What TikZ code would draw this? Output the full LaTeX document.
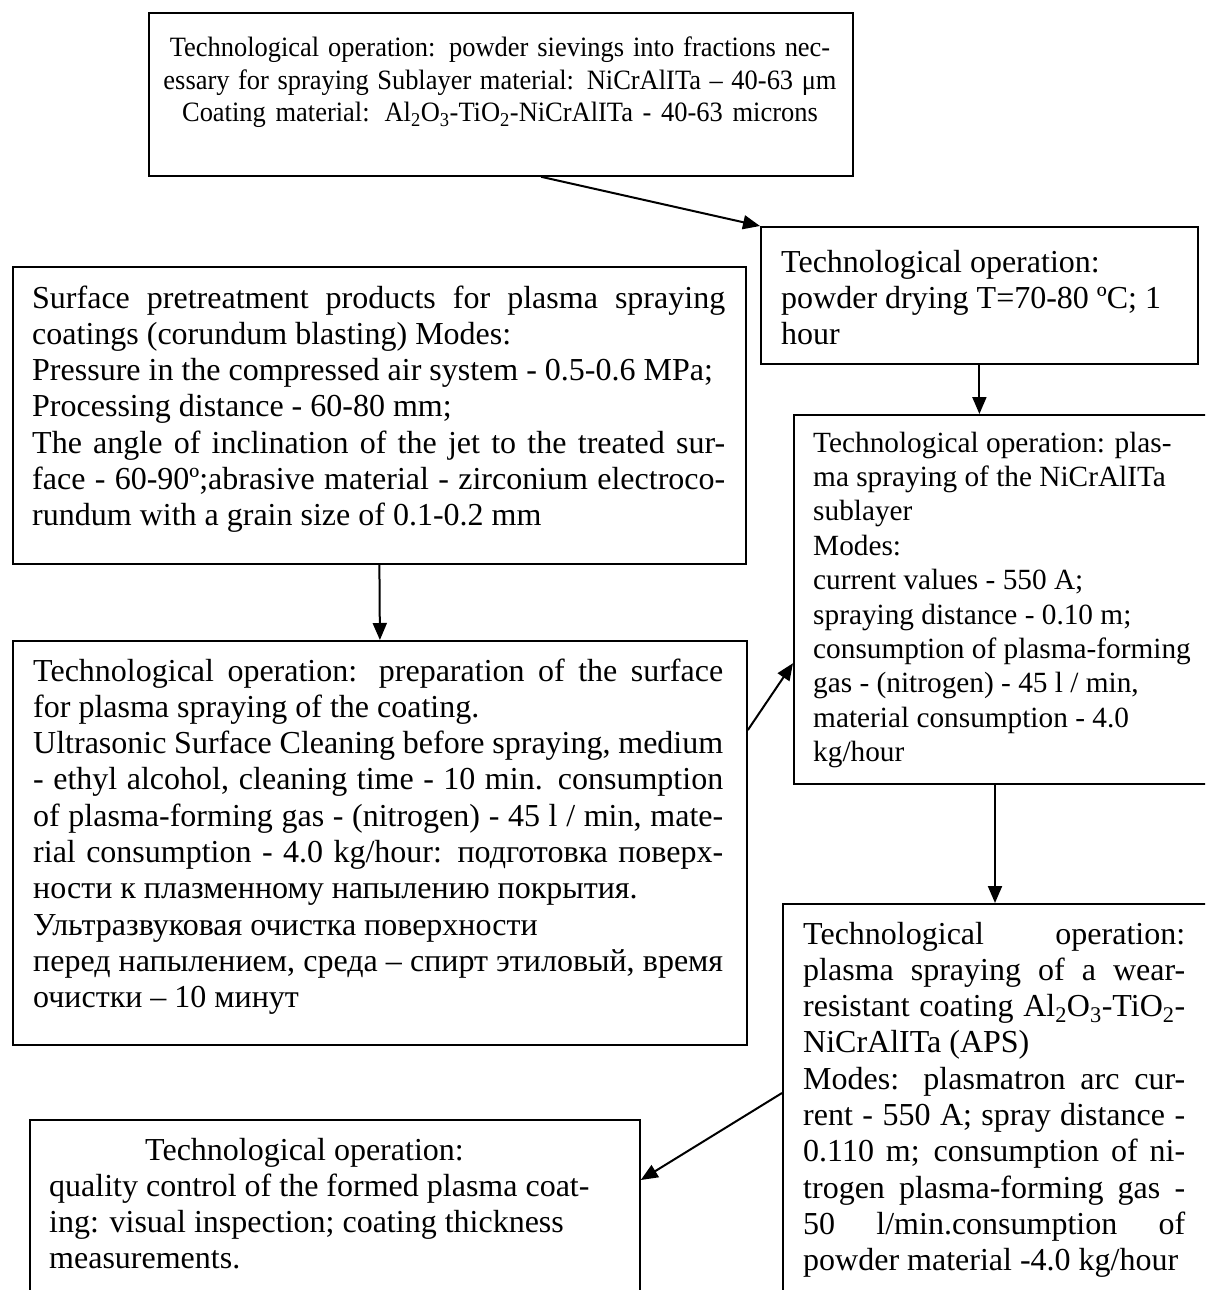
\documentclass[tikz,border=0pt]{standalone}
\usepackage{fontspec}
\setmainfont{Liberation Serif}
\usetikzlibrary{arrows.meta,calc}
\newdimen\jw
\newcommand\ns{\spaceskip=0pt\xspaceskip=0pt\relax}
\newcommand\jline[1]{{\ns\makebox[\jw][s]{#1}}}
\newcommand\sub[1]{\textsubscript{#1}}
\begin{document}
\begin{tikzpicture}[x=1pt,y=-1pt,
  box/.style={draw, line width=1.8pt, inner sep=0pt, anchor=north west},
  txt/.style={anchor=base west, inner sep=0pt, align=left},
  arr/.style={line width=2pt, -{Triangle[length=17pt,width=14pt]}},
  big/.style={font=\fontsize{32pt}{36.3pt}\selectfont},
  mid/.style={font=\fontsize{29.3pt}{34.4pt}\selectfont},
  small/.style={font=\fontsize{28pt}{32.5pt}\selectfont\addfontfeature{FakeStretch=0.945}}]
\useasboundingbox (0,0) rectangle (1205,1290);
\clip (0,0) rectangle (1205,1290);

% boxes
\node[box, minimum width=704pt, minimum height=163pt] (b1) at (148,12) {};
\node[box, minimum width=437pt, minimum height=137pt] (b2) at (760,226) {};
\node[box, minimum width=733pt, minimum height=297pt] (b5) at (12,266) {};
\node[box, minimum width=430pt, minimum height=369pt] (b3) at (793,414) {};
\node[box, minimum width=734pt, minimum height=404pt] (b7) at (12,640) {};
\node[box, minimum width=440pt, minimum height=420pt] (b4) at (782,903) {};
\node[box, minimum width=610pt, minimum height=200pt] (b6) at (29,1119) {};

% texts
\node[small, anchor=base, inner sep=0pt, text width=740pt, align=center] (t1) at (500,57)
  {\ns Technological operation: powder sievings into fractions nec-\\
   essary for spraying Sublayer material: NiCrAlITa – 40-63 μm\\
   Coating material: Al\sub{2}O\sub{3}-TiO\sub{2}-NiCrAlITa - 40-63 microns};

\node[big, txt, text width=420pt] (t2) at (781,272)
  {\ns Technological operation:\\
   powder drying T=70-80 ºC; 1\\
   hour};

\node[big, txt, text width=760pt] (t5) at (32,308)
  {\ns\jw=693pt
   \jline{Surface pretreatment products for plasma spraying}\\
   coatings (corundum blasting) Modes:\\
   Pressure in the compressed air system - 0.5-0.6 MPa;\\
   Processing distance - 60-80 mm;\\
   \jline{The angle of inclination of the jet to the treated sur-}\\
   \jline{face - 60-90º;abrasive material - zirconium electroco-}\\
   rundum with a grain size of 0.1-0.2 mm};

\node[mid, txt, text width=420pt] (t3) at (813,452)
  {\ns Technological operation: plas-\\
   ma spraying of the NiCrAlITa\\
   sublayer\\
   Modes:\\
   current values - 550 A;\\
   spraying distance - 0.10 m;\\
   consumption of plasma-forming\\
   gas - (nitrogen) - 45 l / min,\\
   material consumption - 4.0\\
   kg/hour};

\node[big, txt, text width=760pt] (t7) at (33,681)
  {\ns\jw=690pt
   \jline{Technological operation: preparation of the surface}\\
   for plasma spraying of the coating.\\
   \jline{Ultrasonic Surface Cleaning before spraying, medium}\\
   \jline{- ethyl alcohol, cleaning time - 10 min. consumption}\\
   \jline{of plasma-forming gas - (nitrogen) - 45 l / min, mate-}\\
   \jline{rial consumption - 4.0 kg/hour: подготовка поверх-}\\
   ности к плазменному напылению покрытия.\\
   Ультразвуковая очистка поверхности\\
   \jline{перед напылением, среда – спирт этиловый, время}\\
   очистки – 10 минут};

\node[big, txt, text width=430pt] (t4) at (803,944)
  {\ns\jw=382pt
   \jline{Technological operation:}\\
   \jline{plasma spraying of a wear-}\\
   \jline{resistant coating Al\sub{2}O\sub{3}-TiO\sub{2}-}\\
   NiCrAlITa (APS)\\
   \jline{Modes: plasmatron arc cur-}\\
   \jline{rent - 550 A; spray distance -}\\
   \jline{0.110 m; consumption of ni-}\\
   \jline{trogen plasma-forming gas -}\\
   \jline{50 l/min.consumption of}\\
   powder material -4.0 kg/hour};

\node[big, txt, text width=600pt] (t6) at (49,1160)
  {\ns\hspace*{96pt}Technological operation:\\
   quality control of the formed plasma coat-\\
   ing: visual inspection; coating thickness\\
   measurements.};

% connectors
\draw[arr] ($(b1.south west)!0.557!(b1.south east)$) -- (b2.north west);
\draw[arr] (b2.south) -- (b2.south |- b3.north);
\draw[arr] (b5.south) -- (b7.north);
\draw[arr] ($(b7.north east)!0.222!(b7.south east)$) -- ($(b3.north west)!0.672!(b3.south west)$);
\draw[arr] ([xshift=202pt]b3.south west) -- ([xshift=202pt]b3.south west |- b4.north);
\draw[arr] ([yshift=-190pt]b4.north west) -- ([yshift=-61pt]b6.north east);
\end{tikzpicture}
\end{document}
